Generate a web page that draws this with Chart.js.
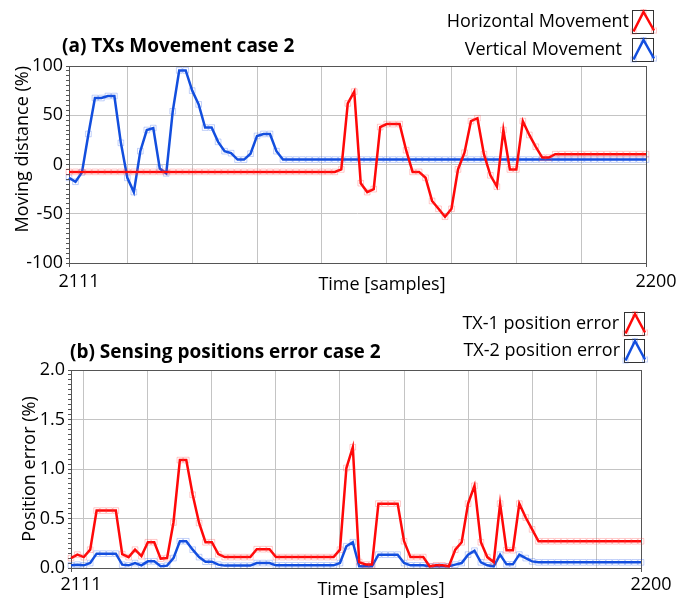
<!DOCTYPE html>
<html>
<head>
<meta charset="utf-8">
<title>TX movement / position error</title>
<script src="https://cdn.jsdelivr.net/npm/chart.js@4.4.0/dist/chart.umd.min.js"></script>
<style>
  html, body { margin: 0; padding: 0; background: #fff; }
  #wrap { position: relative; width: 680px; height: 598px; overflow: hidden; }
  .panel { position: absolute; left: 0; width: 680px; }
  #panel-a { top: 0; height: 300px; }
  #panel-b { top: 300px; height: 298px; }
</style>
</head>
<body>
<div id="wrap">
  <div class="panel" id="panel-a"><canvas id="chart-movement"></canvas></div>
  <div class="panel" id="panel-b"><canvas id="chart-error"></canvas></div>
</div>
<script>
// ---------- data ----------
const samples = Array.from({ length: 90 }, (_, i) => 2111 + i);
const xTickLabels = [2111, 2200];

// (a) moving distance (%)
const horizontalMovement = [
  -7.5, -7.5, -7.5, -7.5, -7.5, -7.5, -7.5, -7.5, -7.5, -7.5,
  -7.5, -7.5, -7.5, -7.5, -7.5, -7.5, -7.5, -7.5, -7.5, -7.5,
  -7.5, -7.5, -7.5, -7.5, -7.5, -7.5, -7.5, -7.5, -7.5, -7.5,
  -7.5, -7.5, -7.5, -7.5, -7.5, -7.5, -7.5, -7.5, -7.5, -7.5,
  -7.5, -7.5, -5, 62, 74, -19, -28, -25, 38, 41,
  41, 41, 14.5, -7.5, -7.5, -13.5, -37, -45, -53, -45,
  -5, 12, 44, 47, 10.5, -11, -22.5, 35, -5, -5,
  44, 30, 18, 7, 7, 10.5, 10.5, 10.5, 10.5, 10.5,
  10.5, 10.5, 10.5, 10.5, 10.5, 10.5, 10.5, 10.5, 10.5, 10.5
];
const verticalMovement = [
  -13.5, -17.5, -8, 31, 67.5, 67.5, 69.5, 69.5, 22, -13.5,
  -28, 13.5, 35, 37, -4, -9, 54, 95.5, 95.5, 75,
  61, 37.5, 37.5, 23, 13.5, 11.5, 5, 5, 11, 29,
  31, 31, 13.5, 5, 5, 5, 5, 5, 5, 5,
  5, 5, 5, 5, 5, 5, 5, 5, 5, 5,
  5, 5, 5, 5, 5, 5, 5, 5, 5, 5,
  5, 5, 5, 5, 5, 5, 5, 5, 5, 5,
  5, 5, 5, 5, 5, 5, 5, 5, 5, 5,
  5, 5, 5, 5, 5, 5, 5, 5, 5, 5
];
const movementTicks = [-100, -50, 0, 50, 100];

// (b) position error (%)
const tx1Error = [
  0.10, 0.135, 0.11, 0.185, 0.58, 0.58, 0.58, 0.58, 0.14, 0.11,
  0.185, 0.12, 0.26, 0.26, 0.095, 0.10, 0.46, 1.09, 1.09, 0.74,
  0.455, 0.26, 0.26, 0.14, 0.11, 0.11, 0.11, 0.11, 0.11, 0.19,
  0.19, 0.19, 0.11, 0.11, 0.11, 0.11, 0.11, 0.11, 0.11, 0.11,
  0.11, 0.11, 0.185, 1.01, 1.22, 0.06, 0.035, 0.035, 0.65, 0.65,
  0.65, 0.65, 0.27, 0.11, 0.11, 0.11, 0.017, 0.027, 0.027, 0.017,
  0.185, 0.26, 0.65, 0.83, 0.26, 0.11, 0.06, 0.65, 0.18, 0.18,
  0.65, 0.51, 0.39, 0.27, 0.27, 0.27, 0.27, 0.27, 0.27, 0.27,
  0.27, 0.27, 0.27, 0.27, 0.27, 0.27, 0.27, 0.27, 0.27, 0.27
];
const tx2Error = [
  0.027, 0.034, 0.027, 0.05, 0.145, 0.145, 0.145, 0.145, 0.034, 0.027,
  0.05, 0.027, 0.067, 0.067, 0.017, 0.024, 0.10, 0.27, 0.27, 0.185,
  0.11, 0.064, 0.064, 0.034, 0.024, 0.024, 0.024, 0.024, 0.024, 0.05,
  0.05, 0.05, 0.027, 0.027, 0.027, 0.027, 0.027, 0.027, 0.027, 0.027,
  0.027, 0.027, 0.05, 0.22, 0.26, 0.017, 0.017, 0.017, 0.135, 0.135,
  0.135, 0.135, 0.05, 0.027, 0.027, 0.027, 0.017, 0.017, 0.017, 0.017,
  0.034, 0.05, 0.135, 0.175, 0.057, 0.027, 0.017, 0.135, 0.037, 0.037,
  0.135, 0.10, 0.067, 0.057, 0.057, 0.057, 0.057, 0.057, 0.057, 0.057,
  0.057, 0.057, 0.057, 0.057, 0.057, 0.057, 0.057, 0.057, 0.057, 0.057
];
const errorTicks = [0, 0.5, 1.0, 1.5, 2.0];

// ---------- styles ----------
const RED = 'rgb(255, 8, 8)';
const BLUE = 'rgb(18, 78, 222)';
const GRID = '#c4c4c4';
const AXIS = '#555';
const TEXT = '#000';

Chart.defaults.font.family = "'Open Sans', sans-serif";
Chart.defaults.color = TEXT;

function serie(label, data, color, marker) {
  return {
    label: label,
    data: data,
    borderColor: color,
    borderWidth: 2.5,
    pointStyle: 'rect',
    pointRadius: 4,
    pointBorderWidth: 1,
    pointBorderColor: marker,
    pointBackgroundColor: 'rgba(255, 255, 255, 0)',
    tension: 0
  };
}

// frame around the plot area
const framePlugin = {
  id: 'frame',
  beforeDatasetsDraw(chart) {
    const { ctx, chartArea: a } = chart;
    ctx.save();
    ctx.strokeStyle = AXIS;
    ctx.lineWidth = 1;
    ctx.strokeRect(Math.round(a.left) + 0.5, Math.round(a.top) + 0.5,
      Math.round(a.right - a.left), Math.round(a.bottom - a.top));
    ctx.restore();
  }
};

// panel title, x axis title and legend with the small line icon on the right
const legendPanel = {
  id: 'legendPanel',
  afterDraw(chart, args, o) {
    const { ctx } = chart;
    ctx.save();
    ctx.fillStyle = TEXT;
    ctx.textBaseline = 'middle';
    ctx.textAlign = 'left';
    ctx.font = "bold 19px 'Open Sans', sans-serif";
    ctx.fillText(o.title, o.titleX, o.titleY);

    ctx.font = "18px 'Open Sans', sans-serif";
    ctx.textAlign = 'center';
    ctx.fillText(o.xTitle, o.xTitleX, o.xTitleY);

    chart.data.datasets.forEach((ds, i) => {
      const y = o.rowsY[i];
      const x = o.boxX;
      ctx.fillStyle = TEXT;
      ctx.textAlign = 'right';
      ctx.fillText(ds.label, o.textRight[i], y + o.boxH / 2);

      ctx.strokeStyle = '#333';
      ctx.lineWidth = 1;
      ctx.strokeRect(x + 0.5, y + 0.5, o.boxW, o.boxH);

      const pts = [
        [x + 1.5, y + o.boxH - 1.5],
        [x + o.boxW / 2 + 1, y + 2],
        [x + o.boxW + 1, y + o.boxH - 2.5]
      ];
      ctx.strokeStyle = ds.borderColor;
      ctx.lineWidth = 2.5;
      ctx.beginPath();
      pts.forEach((p, k) => k ? ctx.lineTo(p[0], p[1]) : ctx.moveTo(p[0], p[1]));
      ctx.stroke();

      ctx.lineWidth = 1;
      ctx.strokeStyle = ds.pointBorderColor;
      pts.forEach(p => ctx.strokeRect(p[0] - 2.5, p[1] - 2.5, 5, 5));
    });
    ctx.restore();
  }
};

function near(list, v) {
  return list.some(t => Math.abs(t - v) < 1e-6);
}

function crearPanel(canvasId, p) {
  const last = samples.length - 1;
  return new Chart(document.getElementById(canvasId), {
    type: 'line',
    data: {
      labels: samples,
      datasets: p.datasets
    },
    plugins: [framePlugin, legendPanel],
    options: {
      responsive: true,
      maintainAspectRatio: false,
      animation: false,
      events: [],
      layout: { padding: { top: p.top, right: p.right, left: 0, bottom: 0 } },
      plugins: {
        legend: { display: false },
        title: { display: false },
        tooltip: { enabled: false },
        legendPanel: p.legend
      },
      scales: {
        x: {
          type: 'category',
          offset: false,
          afterFit: s => { s.height = p.xHeight; },
          border: { display: false },
          grid: {
            color: c => ((samples[c.index] - p.gridFrom) % 10 === 0 && c.index > 0 && c.index < last) ? GRID : 'rgba(0,0,0,0)',
            tickColor: c => (c.index === 0 || c.index === last) ? AXIS : 'rgba(0,0,0,0)',
            tickLength: 4
          },
          ticks: {
            autoSkip: false,
            maxRotation: 0,
            minRotation: 0,
            labelOffset: 10,
            padding: p.xPad,
            font: { size: 18 },
            callback: (v, i) => xTickLabels.includes(samples[i]) ? String(samples[i]) : ''
          }
        },
        y: {
          min: p.yMin,
          max: p.yMax,
          afterFit: s => { s.width = p.yWidth; },
          border: { display: false },
          grid: {
            color: c => (c.tick && near(p.yTicks, c.tick.value) && c.tick.value > p.yMin && c.tick.value < p.yMax) ? GRID : 'rgba(0,0,0,0)',
            tickColor: AXIS,
            tickLength: 3
          },
          ticks: {
            stepSize: p.minorStep,
            maxTicksLimit: 100,
            autoSkip: false,
            padding: 3,
            font: { size: 18 },
            callback: v => near(p.yTicks, v) ? p.fmt(v) : ''
          },
          title: {
            display: true,
            text: p.yTitle,
            align: p.yTitleAlign,
            font: { size: 18 },
            padding: { top: p.yTitleTop, bottom: 0 }
          }
        }
      }
    }
  });
}

crearPanel('chart-movement', {
  datasets: [
    serie('Horizontal Movement', horizontalMovement, RED, 'rgba(255, 60, 60, 0.28)'),
    serie('Vertical Movement', verticalMovement, BLUE, 'rgba(40, 90, 230, 0.28)')
  ],
  top: 66, right: 34, xHeight: 37, yWidth: 69,
  xPad: 4, gridFrom: 2120,
  yMin: -100, yMax: 100, minorStep: 5, yTicks: movementTicks,
  fmt: v => String(v),
  yTitle: 'Moving distance (%)', yTitleAlign: 'end', yTitleTop: 12.2,
  legend: {
    title: '(a) TXs Movement case 2', titleX: 62, titleY: 47,
    xTitle: 'Time [samples]', xTitleX: 382, xTitleY: 285,
    boxX: 632, boxW: 21, boxH: 23, rowsY: [10, 38], textRight: [629, 622]
  }
});

crearPanel('chart-error', {
  datasets: [
    serie('TX-1 position error', tx1Error, RED, 'rgba(255, 60, 60, 0.28)'),
    serie('TX-2 position error', tx2Error, BLUE, 'rgba(40, 90, 230, 0.28)')
  ],
  top: 70, right: 39, xHeight: 30, yWidth: 71,
  xPad: 2, gridFrom: 2113,
  yMin: 0, yMax: 2, minorStep: 0.05, yTicks: errorTicks,
  fmt: v => v.toFixed(1),
  yTitle: 'Position error (%)', yTitleAlign: 'center', yTitleTop: 18.7,
  legend: {
    title: '(b) Sensing positions error case 2', titleX: 70, titleY: 53,
    xTitle: 'Time [samples]', xTitleX: 381, xTitleY: 290,
    boxX: 624, boxW: 20, boxH: 23, rowsY: [12, 39], textRight: [619, 620]
  }
});
</script>
</body>
</html>
